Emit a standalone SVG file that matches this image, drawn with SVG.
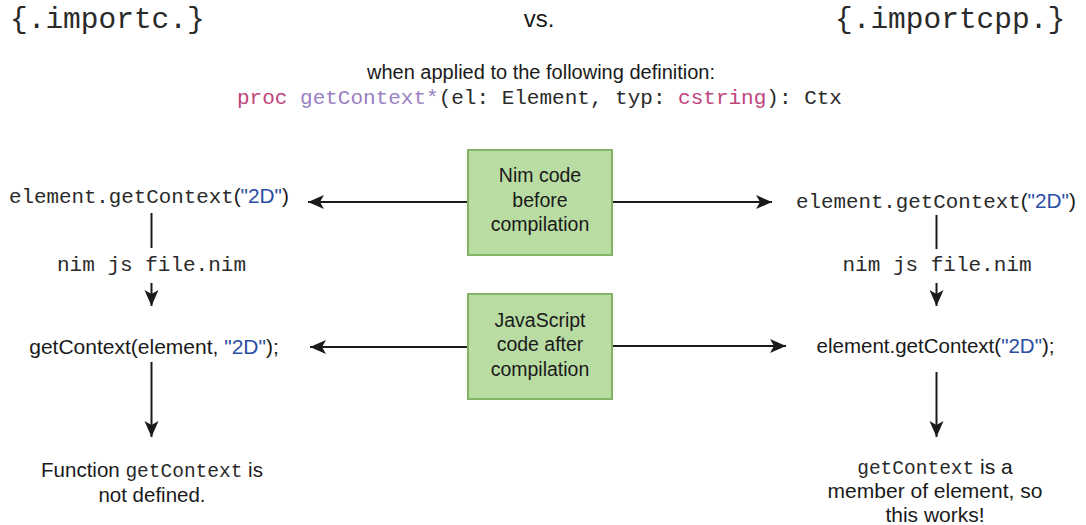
<svg xmlns="http://www.w3.org/2000/svg" width="1086" height="525" viewBox="0 0 1086 525">
<style>
.mono{font-family:"Liberation Mono","DejaVu Sans Mono",monospace;fill:#2a2a2a}
.sans{font-family:"Liberation Sans",Arial,sans-serif;fill:#1a1a1a}
.blue{fill:#2b4ea6}
.pink{fill:#c0457c}
.purple{fill:#9a80c2}
.box{fill:#b9dca3;stroke:#82b366;stroke-width:2}
.edge{stroke:#1a1a1a;stroke-width:2;fill:none}
</style>
<defs>
<marker id="arr" markerUnits="userSpaceOnUse" markerWidth="18" markerHeight="16" refX="16" refY="7" orient="auto">
<path d="M0,0 L16,7 L0,14 L4,7 z" fill="#1a1a1a"/>
</marker>
</defs>
<rect width="1086" height="525" fill="#ffffff"/>
<g id="header">
<text class="mono" x="10" y="28" font-size="29.5">{.importc.}</text>
<text class="sans" x="539" y="27" font-size="24" text-anchor="middle">vs.</text>
<text class="mono" x="835" y="28" font-size="29.5">{.importcpp.}</text>
<text class="sans" x="541" y="79" font-size="20" text-anchor="middle">when applied to the following definition:</text>
<text class="mono" x="237" y="104" font-size="21"><tspan class="pink">proc</tspan> <tspan class="purple">getContext*</tspan>(el: Element, typ: <tspan class="pink">cstring</tspan>): Ctx</text>
</g>
<g id="nim-box">
<rect class="box" x="468" y="150" width="144" height="105"/>
<text class="sans" x="540" y="182" font-size="19.5" text-anchor="middle">Nim code</text>
<text class="sans" x="540" y="207" font-size="19.5" text-anchor="middle">before</text>
<text class="sans" x="540" y="231" font-size="19.5" text-anchor="middle">compilation</text>
</g>
<g id="js-box">
<rect class="box" x="468" y="294" width="144" height="105"/>
<text class="sans" x="540" y="327" font-size="19.5" text-anchor="middle">JavaScript</text>
<text class="sans" x="540" y="351" font-size="19.5" text-anchor="middle">code after</text>
<text class="sans" x="540" y="376" font-size="19.5" text-anchor="middle">compilation</text>
</g>
<g id="left-nim">
<text class="mono" x="9" y="203" font-size="20.8">element.getContext<tspan class="sans">(<tspan class="blue">"2D"</tspan>)</tspan></text>
</g>
<g id="left-cmd">
<text class="mono" x="151.5" y="271" font-size="21" text-anchor="middle">nim js file.nim</text>
</g>
<g id="left-js">
<text class="sans" x="154" y="354" font-size="21" text-anchor="middle">getContext(element, <tspan class="blue">"2D"</tspan>);</text>
</g>
<g id="left-result">
<text class="sans" x="152" y="477" font-size="20.5" text-anchor="middle">Function <tspan class="mono" font-size="19.5">getContext</tspan> is</text>
<text class="sans" x="152" y="502" font-size="20.5" text-anchor="middle">not defined.</text>
</g>
<g id="right-nim">
<text class="mono" x="796" y="208" font-size="20.8">element.getContext<tspan class="sans">(<tspan class="blue">"2D"</tspan>)</tspan></text>
</g>
<g id="right-cmd">
<text class="mono" x="937" y="271" font-size="21" text-anchor="middle">nim js file.nim</text>
</g>
<g id="right-js">
<text class="sans" x="935.5" y="353" font-size="20.5" text-anchor="middle">element.getContext(<tspan class="blue">"2D"</tspan>);</text>
</g>
<g id="right-result">
<text class="sans" x="935" y="474" font-size="21" text-anchor="middle"><tspan class="mono" font-size="19.5">getContext</tspan> is a</text>
<text class="sans" x="935" y="498" font-size="21" text-anchor="middle">member of element, so</text>
<text class="sans" x="935" y="522" font-size="21" text-anchor="middle">this works!</text>
</g>
<g id="connectors">
<line class="edge" x1="467" y1="202" x2="308" y2="202" marker-end="url(#arr)"/>
<line class="edge" x1="613" y1="202" x2="772" y2="202" marker-end="url(#arr)"/>
<line class="edge" x1="467" y1="347" x2="310" y2="347" marker-end="url(#arr)"/>
<line class="edge" x1="613" y1="346" x2="786" y2="346" marker-end="url(#arr)"/>
<line class="edge" x1="151.5" y1="213" x2="151.5" y2="248"/>
<line class="edge" x1="151.5" y1="283" x2="151.5" y2="306" marker-end="url(#arr)"/>
<line class="edge" x1="151.5" y1="362" x2="151.5" y2="437" marker-end="url(#arr)"/>
<line class="edge" x1="936.5" y1="215" x2="936.5" y2="249"/>
<line class="edge" x1="936.5" y1="283" x2="936.5" y2="306" marker-end="url(#arr)"/>
<line class="edge" x1="936.5" y1="372" x2="936.5" y2="437" marker-end="url(#arr)"/>
</g>
</svg>
